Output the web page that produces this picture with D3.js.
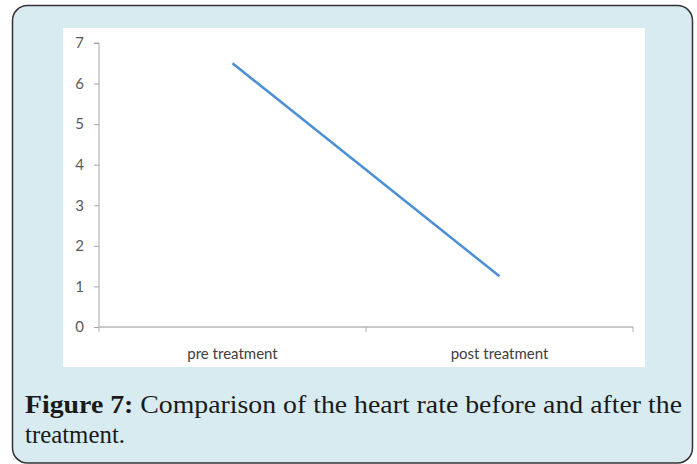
<!DOCTYPE html>
<html>
<head>
<meta charset="utf-8">
<script src="https://cdn.jsdelivr.net/npm/d3@7"></script>
<style>
  html, body { margin: 0; padding: 0; background: #fff; }
  svg { display: block; }
</style>
</head>
<body>
<svg width="697" height="464"></svg>
<script>
// data
var categories = ["pre treatment", "post treatment"];
var values = [6.5, 1.25];
var yTicks = [0, 1, 2, 3, 4, 5, 6, 7];
var captionBold = "Figure 7:";
var captionLine1 = " Comparison of the heart rate before and after the";
var captionLine2 = "treatment.";

var svg = d3.select("svg");

// outer rounded frame
svg.append("rect")
  .attr("x", 12.5).attr("y", 5.5)
  .attr("width", 680).attr("height", 457.5)
  .attr("rx", 15).attr("ry", 15)
  .style("fill", "#d7ebf1")
  .style("stroke", "#333")
  .style("stroke-width", 1.5);

// white chart panel
svg.append("rect")
  .attr("x", 63).attr("y", 28)
  .attr("width", 582).attr("height", 339)
  .style("fill", "#fff");

var x = d3.scaleBand()
  .domain(categories)
  .range([99, 633]);

var y = d3.scaleLinear()
  .domain([0, 7])
  .range([327, 43]);

// y axis
var yAxis = svg.append("g")
  .attr("transform", "translate(99,0)")
  .call(d3.axisLeft(y).tickValues(yTicks).tickSize(5).tickPadding(10).tickFormat(d3.format("d")));
yAxis.select(".domain").attr("d", "M-5," + y(7) + "H0V" + y(0)).style("stroke", "#a6a6a6");
yAxis.selectAll(".tick line").style("stroke", "#a6a6a6");
yAxis.selectAll(".tick text")
  .style("font-family", "Lato, 'Open Sans', sans-serif")
  .style("font-size", "15px")
  .style("fill", "#595959");

// x axis, ticks between the categories like Excel
var xAxis = svg.append("g")
  .attr("transform", "translate(0," + y(0) + ")");
xAxis.append("line")
  .attr("x1", 99).attr("x2", 633)
  .style("stroke", "#c8c8c8")
  .style("stroke-width", 2);
var bounds = [x.range()[0]].concat(categories.map(function(d) { return x(d) + x.bandwidth(); }));
xAxis.selectAll(".xtick")
  .data(bounds)
  .enter()
  .append("line")
  .attr("x1", function(d) { return d; })
  .attr("x2", function(d) { return d; })
  .attr("y1", 0).attr("y2", 5)
  .style("stroke", "#b0b0b0");
xAxis.selectAll(".xlab")
  .data(categories)
  .enter()
  .append("text")
  .attr("x", function(d) { return x(d) + x.bandwidth() / 2; })
  .attr("y", 32)
  .attr("text-anchor", "middle")
  .style("font-family", "Lato, 'Open Sans', sans-serif")
  .style("font-size", "15px")
  .style("fill", "#404040")
  .text(function(d) { return d; });

// the line
var line = d3.line()
  .x(function(d, i) { return x(categories[i]) + x.bandwidth() / 2; })
  .y(function(d) { return y(d); });

svg.append("path")
  .datum(values)
  .attr("d", line)
  .style("fill", "none")
  .style("stroke", "#4a8fd8")
  .style("stroke-width", 2.5);

// caption
var cap = svg.append("text")
  .attr("x", 25).attr("y", 413)
  .attr("textLength", 657)
  .attr("lengthAdjust", "spacingAndGlyphs")
  .style("font-family", "'Liberation Serif', serif")
  .style("font-size", "25px")
  .style("fill", "#1a1a1a");
cap.append("tspan").style("font-weight", "bold").text(captionBold);
cap.append("tspan").text(captionLine1);

svg.append("text")
  .attr("x", 25).attr("y", 443)
  .attr("textLength", 100)
  .attr("lengthAdjust", "spacingAndGlyphs")
  .style("font-family", "'Liberation Serif', serif")
  .style("font-size", "25px")
  .style("fill", "#1a1a1a")
  .text(captionLine2);
</script>
</body>
</html>
